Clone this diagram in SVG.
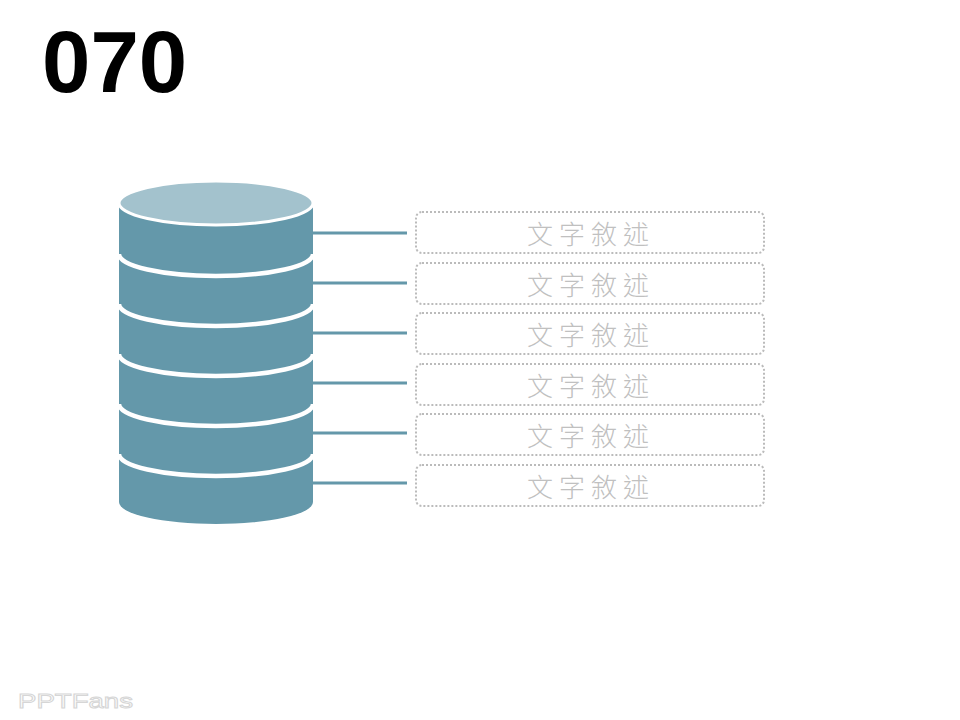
<svg xmlns="http://www.w3.org/2000/svg" width="960" height="720" viewBox="0 0 960 720">
  <style>
    .band { fill: #6498AA; }
    .sep { fill: none; stroke: #FFFFFF; stroke-width: 4.5; }
    .conn { stroke: #6498AA; stroke-width: 3; fill: none; }
    .box { fill: #FFFFFF; stroke: #BBBBBB; stroke-width: 2; stroke-dasharray: 2 2; }
    .lbl { font-family: "Noto Sans CJK TC", "Noto Sans CJK SC", sans-serif; font-size: 26px; font-weight: 300; fill: #C0C0C0; letter-spacing: 6px; }
  </style>
  <rect width="960" height="720" fill="#FFFFFF"/>
  <g id="title">
    <text x="42" y="92" font-family="Liberation Sans, Arial, sans-serif" font-weight="bold" font-size="87" fill="#000000">070</text>
  </g>
  <g id="cylinder">
    <path class="band" d="M119,203 L119,502 A97,22 0 0 0 313,502 L313,203 Z"/>
    <path class="sep" d="M119,254 A97,22 0 0 0 313,254"/>
    <path class="sep" d="M119,304 A97,22 0 0 0 313,304"/>
    <path class="sep" d="M119,354 A97,22 0 0 0 313,354"/>
    <path class="sep" d="M119,404 A97,22 0 0 0 313,404"/>
    <path class="sep" d="M119,454 A97,22 0 0 0 313,454"/>
    <ellipse cx="216" cy="203" rx="97" ry="22" fill="#A3C2CD" stroke="#FFFFFF" stroke-width="3"/>
  </g>
  <g id="connectors">
    <line class="conn" x1="313" y1="233" x2="407" y2="233"/>
    <line class="conn" x1="313" y1="283" x2="407" y2="283"/>
    <line class="conn" x1="313" y1="333" x2="407" y2="333"/>
    <line class="conn" x1="313" y1="383" x2="407" y2="383"/>
    <line class="conn" x1="313" y1="433" x2="407" y2="433"/>
    <line class="conn" x1="313" y1="483" x2="407" y2="483"/>
  </g>
  <g id="item1">
    <rect class="box" x="416" y="212" width="348" height="41" rx="6"/>
    <text class="lbl" x="527" y="244">文字敘述</text>
  </g>
  <g id="item2">
    <rect class="box" x="416" y="263" width="348" height="41" rx="6"/>
    <text class="lbl" x="527" y="295">文字敘述</text>
  </g>
  <g id="item3">
    <rect class="box" x="416" y="313" width="348" height="41" rx="6"/>
    <text class="lbl" x="527" y="345">文字敘述</text>
  </g>
  <g id="item4">
    <rect class="box" x="416" y="364" width="348" height="41" rx="6"/>
    <text class="lbl" x="527" y="396">文字敘述</text>
  </g>
  <g id="item5">
    <rect class="box" x="416" y="414" width="348" height="41" rx="6"/>
    <text class="lbl" x="527" y="446">文字敘述</text>
  </g>
  <g id="item6">
    <rect class="box" x="416" y="465" width="348" height="41" rx="6"/>
    <text class="lbl" x="527" y="497">文字敘述</text>
  </g>
  <g id="logo">
    <text x="18" y="708" font-family="Liberation Sans, Arial, sans-serif" font-size="21" textLength="115" lengthAdjust="spacingAndGlyphs" fill="#FFFFFF" stroke="#D6D6D6" stroke-width="1">PPTFans</text>
  </g>
</svg>
